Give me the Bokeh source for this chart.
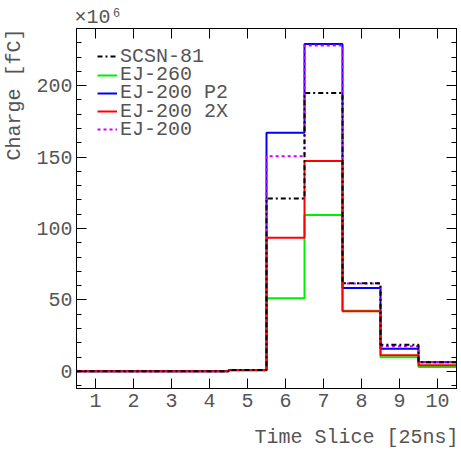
from bokeh.plotting import figure
from bokeh.models import (Range1d, LinearAxis, SingleIntervalTicker, Legend,
                          LegendItem, Title, CustomJSTickFormatter)
from bokeh.embed import file_html
from bokeh.resources import INLINE

# ---- data (charge in units of 1e6 fC) ----
time_slices = [1, 2, 3, 4, 5, 6, 7, 8, 9, 10]
scsn81   = [0.1, 0.1, 0.1, 0.1, 0.9, 121.0, 194.9, 61.7, 18.6, 6.4]
ej260    = [0.1, 0.1, 0.1, 0.1, 0.7, 51.2, 109.5, 42.5, 9.8, 3.1]
ej200_p2 = [0.1, 0.1, 0.1, 0.1, 0.9, 167.0, 229.1, 58.4, 15.8, 6.3]
ej200_2x = [0.1, 0.1, 0.1, 0.1, 0.8, 93.5, 147.2, 42.1, 11.2, 4.2]
ej200    = [0.1, 0.1, 0.1, 0.1, 0.9, 150.5, 228.1, 61.5, 17.5, 6.5]
series_names = ["SCSN-81", "EJ-260", "EJ-200 P2", "EJ-200 2X", "EJ-200"]

x_label = "Time Slice [25ns]"
y_label = "Charge [fC]"
y_scale_label = "×10⁶"

FONT = "Liberation Mono"
TXT = "#555555"
NBSP = "\u00a0"

p = figure(width=461, height=451, output_backend="svg", toolbar_location=None,
           x_range=Range1d(0.5, 10.5), y_range=Range1d(-12, 240),
           min_border_left=76, min_border_right=5, min_border_top=28,
           min_border_bottom=62)
p.xgrid.visible = False
p.ygrid.visible = False
p.outline_line_color = "black"
p.background_fill_color = "white"
p.border_fill_color = "white"

xt = SingleIntervalTicker(interval=1, num_minor_ticks=0)
yt = SingleIntervalTicker(interval=50, num_minor_ticks=5)

xax = p.xaxis[0]
yax = p.yaxis[0]
xax.ticker = xt
yax.ticker = yt

def style(ax, labels=True):
    ax.axis_line_color = "black"
    ax.major_tick_in = 10
    ax.major_tick_out = 0
    ax.minor_tick_in = 5
    ax.minor_tick_out = 0
    ax.major_tick_line_color = "black"
    ax.minor_tick_line_color = "black"
    if labels:
        ax.major_label_text_font = FONT
        ax.major_label_text_font_size = "20px"
        ax.major_label_text_color = TXT
        ax.axis_label_text_font = FONT
        ax.axis_label_text_font_size = "20px"
        ax.axis_label_text_font_style = "normal"
        ax.axis_label_text_color = TXT
    else:
        ax.formatter = CustomJSTickFormatter(code="return ''")
        ax.major_label_standoff = 0

# axis titles sit at the far end of their axis: the centred monospace label
# is padded with non-breaking spaces in front so that its visible part ends there
style(xax)
xax.major_label_standoff = 5
xax.axis_label = NBSP * 15 + x_label
xax.axis_label_standoff = 16
style(yax)
yax.major_label_standoff = 4
yax.axis_label = NBSP * 19 + y_label
yax.axis_label_standoff = 7

top = LinearAxis(ticker=xt)
style(top, labels=False)
p.add_layout(top, "above")
right = LinearAxis(ticker=yt)
style(right, labels=False)
p.add_layout(right, "right")

def edges(vals):
    xs = [t - 0.5 for t in time_slices] + [time_slices[-1] + 0.5]
    ys = list(vals) + [vals[-1]]
    return xs, ys

r_green = p.step(*edges(ej260), mode="after", line_color="#00ee00", line_width=2)
r_blue = p.step(*edges(ej200_p2), mode="after", line_color="#0000ff", line_width=2)
r_mag = p.step(*edges(ej200), mode="after", line_color="#cc00ff", line_width=2,
               line_dash="3 3")
r_red = p.step(*edges(ej200_2x), mode="after", line_color="#ff0000", line_width=2)
r_black = p.step(*edges(scsn81), mode="after", line_color="black", line_width=2,
                 line_dash="5 3 2 3")

# one legend per row so that rows can sit closer than the text box height
row_renderers = [r_black, r_green, r_blue, r_red, r_mag]
for i, (name, r) in enumerate(zip(series_names, row_renderers)):
    centre = 57.5 + 18.2 * i          # row centre, px from canvas top
    bottom = 389 - (centre + 11.4)    # legend bottom, px above frame bottom
    leg = Legend(items=[LegendItem(label=name, renderers=[r])],
                 location=(21, bottom), padding=0, margin=0, spacing=0,
                 border_line_alpha=0, background_fill_alpha=0,
                 glyph_width=20, glyph_height=18, label_height=18,
                 label_standoff=3, label_text_font=FONT,
                 label_text_font_size="20px", label_text_color=TXT)
    p.add_layout(leg)

p.add_layout(Title(text=y_scale_label, align="left", standoff=0, offset=-2,
                   text_font=FONT, text_font_size="20px",
                   text_font_style="normal", text_color=TXT), "above")

open("out.html", "w").write(file_html(p, INLINE))
